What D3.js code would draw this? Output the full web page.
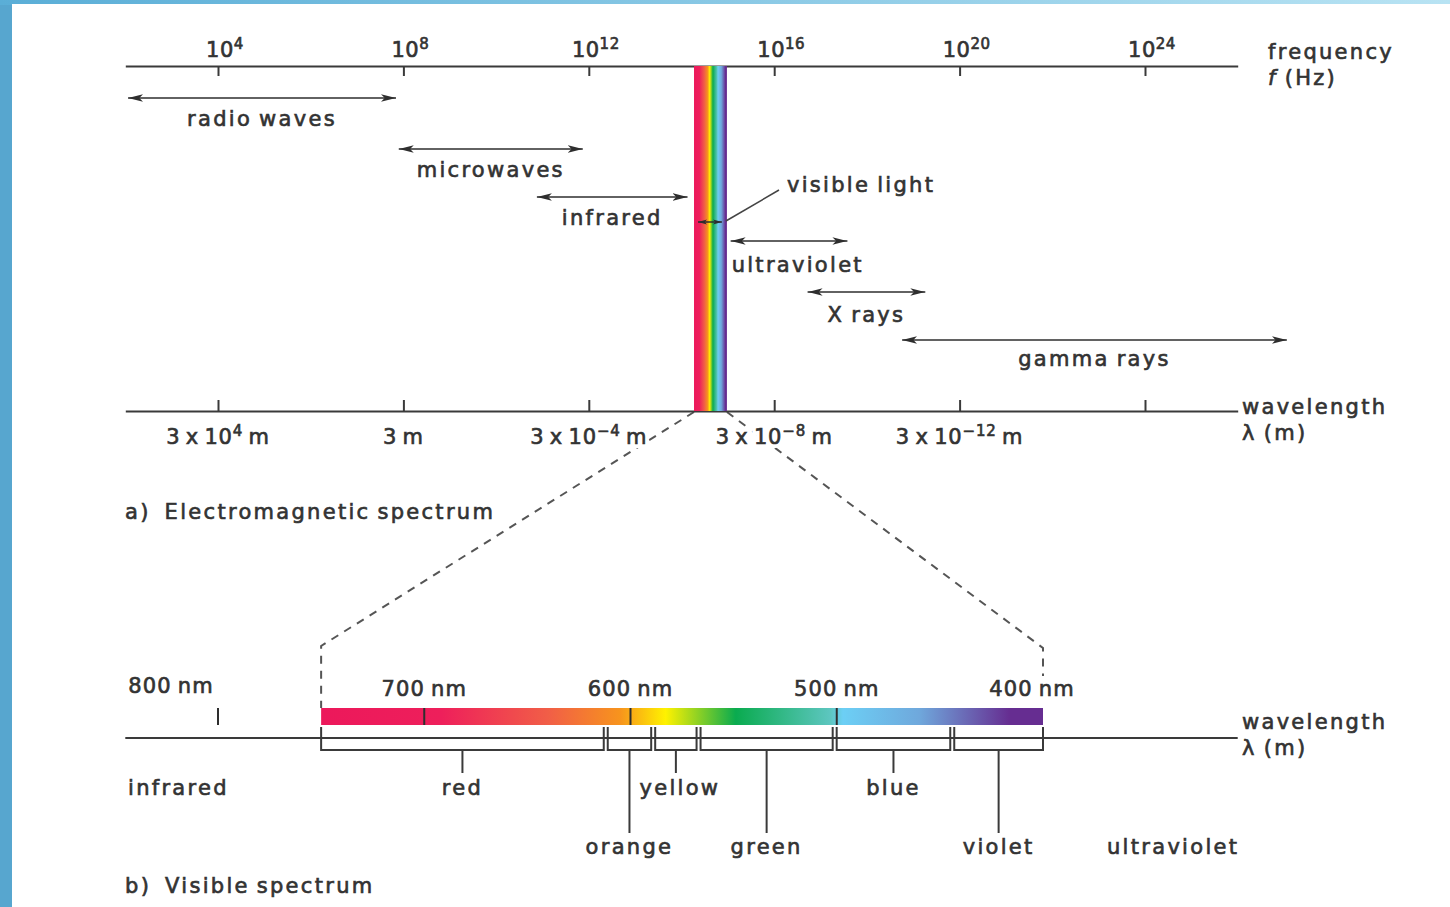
<!DOCTYPE html>
<html lang="en">
<head>
<meta charset="utf-8">
<script src="https://d3js.org/d3.v7.min.js"></script>
<style>
  body { margin: 0; background: #57a6cf; }
  svg text { font-family: "DejaVu Sans", sans-serif; font-size: 21px; fill: #333; stroke: #333; stroke-width: 0.65px;
             letter-spacing: 2.3px; word-spacing: -2px; }
  svg text.halo { fill: #fff; stroke: #fff; stroke-width: 8px; }
  .axis path, .axis line { stroke: #3a3a3a; stroke-width: 2; }
</style>
</head>
<body>
<svg id="chart" width="1450" height="907"></svg>
<script>
// frequency ticks, exponent of ten (Hz)
var freqExp = [4, 8, 12, 16, 20, 24];
// wavelength tick labels at the same ticks
var waveText = ["3 x 10", "3", "3 x 10", "3 x 10", "3 x 10", null];
var waveSup = ["4", "", "\u22124", "\u22128", "\u221212", ""];

// regions of the spectrum, as log10(f)
var regionNames = ["radio waves", "microwaves", "infrared", "ultraviolet", "X rays", "gamma rays"];
var regionLo = [2.06, 7.90, 10.88, 15.06, 16.72, 18.76];
var regionHi = [7.84, 11.87, 14.13, 17.58, 19.26, 27.06];
var visibleLog = [14.27, 14.98];

// visible spectrum, nm
var nmTicks = [800, 700, 600, 500, 400];
var colourNames = ["red", "orange", "yellow", "green", "blue", "violet"];
var colourEdges = [750, 612, 589, 567, 501, 444, 400];
var gradNm = [750, 692, 640, 605, 583, 549, 503, 497, 460, 416, 400];
var gradCol = ["#ec185b", "#ee1f5b", "#f15e47", "#f7941d", "#fff200", "#0aab4f",
               "#5dc6c0", "#6ccff5", "#6fa8dc", "#662d91", "#662d91"];

var svg = d3.select("#chart");
var defs = svg.append("defs");

// frame
var topGrad = defs.append("linearGradient").attr("id", "frameTop");
topGrad.append("stop").attr("offset", 0).attr("stop-color", "#5aaed7");
topGrad.append("stop").attr("offset", 1).attr("stop-color", "#b8e3f3");
svg.append("rect").attr("width", 1450).attr("height", 907).attr("fill", "#57a6cf");
svg.append("rect").attr("x", 0).attr("width", 1450).attr("height", 5).attr("fill", "url(#frameTop)");
svg.append("rect").attr("x", 12).attr("y", 4).attr("width", 1438).attr("height", 903).attr("fill", "#fff");

// arrowheads
function marker(id, len, half) {
  defs.append("marker").attr("id", id)
    .attr("markerUnits", "userSpaceOnUse")
    .attr("viewBox", "0 " + (-half) + " " + len + " " + (2 * half))
    .attr("refX", len).attr("refY", 0)
    .attr("markerWidth", len).attr("markerHeight", 2 * half)
    .attr("orient", "auto-start-reverse")
    .append("path")
    .attr("d", "M0," + (-half) + "L" + len + ",0L0," + half + "L" + (len * 0.25) + ",0Z")
    .attr("fill", "#2e2e2e");
}
marker("arr", 15, 3.8);
marker("arrSmall", 9, 2.6);

var x = d3.scaleLog().domain([1e2, 1e26]).range([125.3, 1237.7]);
var nm = d3.scaleLinear().domain([800, 400]).range([218, 1043]);

// gradient used by both spectrum bars
function spectrumGradient(id, x1, x2) {
  var g = defs.append("linearGradient").attr("id", id)
    .attr("gradientUnits", "userSpaceOnUse")
    .attr("x1", x1).attr("x2", x2).attr("y1", 0).attr("y2", 0);
  gradNm.forEach(function (d, i) {
    g.append("stop").attr("offset", (750 - d) / 350).attr("stop-color", gradCol[i]);
  });
}

var tickVals = freqExp.map(function (e) { return Math.pow(10, e); });

// dashed zoom lines
var visX0 = x(Math.pow(10, visibleLog[0])), visX1 = x(Math.pow(10, visibleLog[1]));
svg.append("path")
  .attr("d", "M" + visX0 + ",412L" + nm(750) + ",646V708")
  .attr("fill", "none").attr("stroke", "#555").attr("stroke-width", 2).attr("stroke-dasharray", "8,7");
svg.append("path")
  .attr("d", "M" + visX1 + ",412L" + nm(400) + ",648V676")
  .attr("fill", "none").attr("stroke", "#555").attr("stroke-width", 2).attr("stroke-dasharray", "8,7");

// wavelength labels: white halo copy goes under the axes, over the dashed lines
function waveLabel(cls, e, i) {
  var t = svg.append("text").attr("class", cls).attr("x", x(Math.pow(10, e))).attr("y", 444)
    .attr("text-anchor", "middle").style("letter-spacing", "0.8px");
  t.append("tspan").text(waveText[i]);
  if (waveSup[i]) {
    t.append("tspan").attr("dy", -8).style("font-size", "15px").text(waveSup[i]);
    t.append("tspan").attr("dy", 8).text(" m");
  } else {
    t.append("tspan").text(" m");
  }
}
freqExp.forEach(function (e, i) { if (waveText[i]) waveLabel("halo", e, i); });

// top frequency axis
svg.append("g").attr("class", "axis").attr("transform", "translate(0,66)")
  .call(d3.axisBottom(x).tickValues(tickVals).tickFormat("").tickSize(10).tickSizeOuter(0));
// bottom wavelength axis
svg.append("g").attr("class", "axis").attr("transform", "translate(0,411)")
  .call(d3.axisTop(x).tickValues(tickVals).tickFormat("").tickSize(11).tickSizeOuter(0));

freqExp.forEach(function (e, i) { if (waveText[i]) waveLabel(null, e, i); });

// frequency labels
freqExp.forEach(function (e) {
  var t = svg.append("text").attr("x", x(Math.pow(10, e)) + 7).attr("y", 57)
    .attr("text-anchor", "middle").style("letter-spacing", "0.5px");
  t.append("tspan").text("10");
  t.append("tspan").attr("dy", -8).style("font-size", "15px").text(e);
});

// visible band on the full spectrum
spectrumGradient("specTop", visX0, visX1);
svg.append("rect").attr("x", visX0).attr("y", 66).attr("width", visX1 - visX0).attr("height", 345)
  .attr("fill", "url(#specTop)");

// region arrows
var rowY = [98, 149, 197, 241, 292, 340];
var labelGap = [21, 21, 21, 24, 23, 19];
regionNames.forEach(function (name, i) {
  var a = x(Math.pow(10, regionLo[i])), b = x(Math.pow(10, regionHi[i]));
  svg.append("line").attr("x1", a).attr("x2", b).attr("y1", rowY[i]).attr("y2", rowY[i])
    .attr("stroke", "#2e2e2e").attr("stroke-width", 1.6)
    .attr("marker-start", "url(#arr)").attr("marker-end", "url(#arr)");
  var left = name === "ultraviolet";
  svg.append("text").attr("x", left ? a + 1 : (a + b) / 2).attr("y", rowY[i] + labelGap[i])
    .attr("dy", "0.35em").attr("text-anchor", left ? "start" : "middle").text(name);
});

// visible light marker
svg.append("line").attr("x1", visX0 + 4).attr("x2", visX1 - 5).attr("y1", 222).attr("y2", 222)
  .attr("stroke", "#2e2e2e").attr("stroke-width", 1.5)
  .attr("marker-start", "url(#arrSmall)").attr("marker-end", "url(#arrSmall)");
svg.append("line").attr("x1", visX1 - 1).attr("y1", 221).attr("x2", 779).attr("y2", 190)
  .attr("stroke", "#444").attr("stroke-width", 1.5);
svg.append("text").attr("x", 787).attr("y", 185).attr("dy", "0.35em").text("visible light");

// axis titles
function title(xp, y1, line1, line2, italic) {
  svg.append("text").attr("x", xp).attr("y", y1).attr("dy", "0.35em").text(line1);
  var t = svg.append("text").attr("x", xp).attr("y", y1 + 26).attr("dy", "0.35em");
  if (italic) {
    t.append("tspan").style("font-style", "italic").text(line2[0]);
    t.append("tspan").text(line2.slice(1));
  } else t.text(line2);
}
title(1268, 52, "frequency", "f (Hz)", true);
title(1242, 407, "wavelength", "\u03bb (m)", false);
title(1242, 722, "wavelength", "\u03bb (m)", false);

svg.append("text").attr("x", 125).attr("y", 512).attr("dy", "0.35em").text("a)\u00a0 Electromagnetic spectrum");
svg.append("text").attr("x", 125).attr("y", 886).attr("dy", "0.35em").text("b)\u00a0 Visible spectrum");

// visible spectrum bar
spectrumGradient("specBottom", nm(750), nm(400));
svg.append("line").attr("x1", x.range()[0]).attr("x2", x.range()[1]).attr("y1", 738).attr("y2", 738)
  .attr("stroke", "#3a3a3a").attr("stroke-width", 2);
svg.append("rect").attr("x", nm(750)).attr("y", 708).attr("width", nm(400) - nm(750)).attr("height", 17)
  .attr("fill", "url(#specBottom)");
nmTicks.filter(function (d) { return d !== 400; }).forEach(function (d) {
  svg.append("line").attr("x1", nm(d)).attr("x2", nm(d)).attr("y1", 708).attr("y2", 725)
    .attr("stroke", "#2e2e2e").attr("stroke-width", 2);
});
var nmDx = [-47, 0, 0, 0, -11];
nmTicks.forEach(function (d, i) {
  svg.append("text").attr("x", nm(d) + nmDx[i]).attr("y", i === 0 ? 686 : 689).attr("dy", "0.35em")
    .attr("text-anchor", "middle").style("letter-spacing", "1.2px").text(d + " nm");
});

// colour brackets
colourNames.forEach(function (name, i) {
  var x0 = nm(colourEdges[i]) + (i > 0 ? 2 : 0);
  var x1 = nm(colourEdges[i + 1]) - (i < colourNames.length - 1 ? 2 : 0);
  svg.append("path").attr("d", "M" + x0 + ",727V750H" + x1 + "V727")
    .attr("fill", "none").attr("stroke", "#3a3a3a").attr("stroke-width", 2);
  var cx = (x0 + x1) / 2, longStem = i % 2 === 1;
  svg.append("line").attr("x1", cx).attr("x2", cx).attr("y1", 750).attr("y2", longStem ? 833 : 773)
    .attr("stroke", "#3a3a3a").attr("stroke-width", 2);
  svg.append("text").attr("x", cx + (name === "yellow" ? 4 : 0)).attr("y", longStem ? 847 : 788)
    .attr("dy", "0.35em").attr("text-anchor", "middle").text(name);
});
svg.append("text").attr("x", 128).attr("y", 788).attr("dy", "0.35em").text("infrared");
svg.append("text").attr("x", 1107).attr("y", 847).attr("dy", "0.35em").text("ultraviolet");
</script>
</body>
</html>
